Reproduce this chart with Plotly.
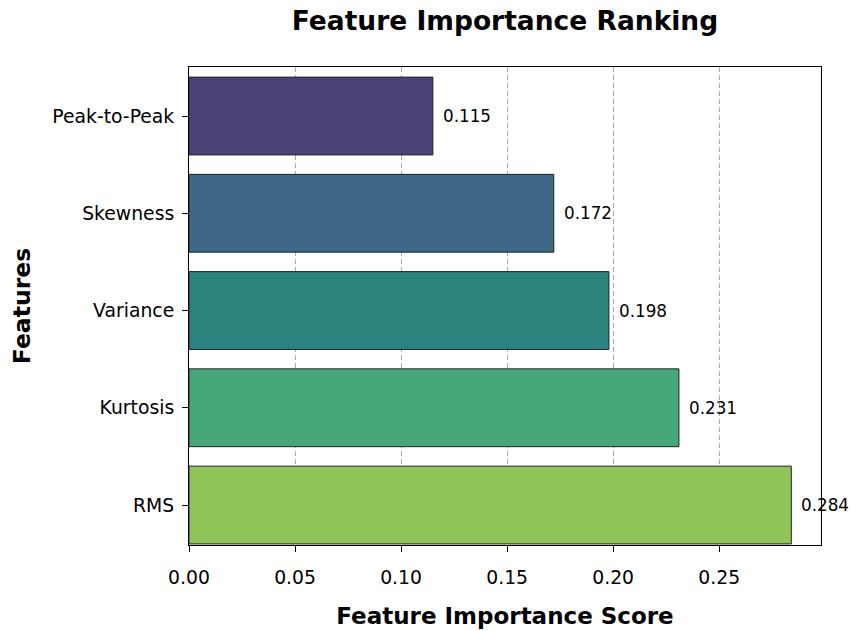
import plotly.graph_objects as go

features = ["RMS", "Kurtosis", "Variance", "Skewness", "Peak-to-Peak"]
scores = [0.284, 0.231, 0.198, 0.172, 0.115]
colors = ["#8fc558", "#46a878", "#2c837d", "#3f6887", "#4a4277"]
x_ticks = [0.0, 0.05, 0.10, 0.15, 0.20, 0.25]
x_tick_labels = ["0.00", "0.05", "0.10", "0.15", "0.20", "0.25"]

FONT = "DejaVu Sans"

fig = go.Figure()
fig.add_trace(go.Bar(
    x=scores, y=features, orientation="h", width=0.8,
    marker=dict(color=colors, line=dict(color="#222222", width=1)),
    hoverinfo="skip",
))

for f, s in zip(features, scores):
    fig.add_annotation(x=s, y=f, text=f"{s:.3f}", showarrow=False,
                       xanchor="left", yanchor="middle", xshift=8,
                       font=dict(family=FONT, size=16.8, color="black"))

fig.update_layout(
    width=851, height=631,
    margin=dict(l=189, r=30, t=67, b=86),
    plot_bgcolor="white", paper_bgcolor="white",
    showlegend=False,
    title=dict(text="<b>Feature Importance Ranking</b>", x=0.5, xref="paper", xanchor="center",
               y=1 - 21 / 631, yanchor="middle", font=dict(family=FONT, size=26.5, color="black")),
    font=dict(family=FONT, size=18.8, color="black"),
)

fig.update_xaxes(
    range=[0, 0.298], tickvals=x_ticks, ticktext=x_tick_labels,
    showgrid=True, gridcolor="#a8a8a8", griddash="5px,3px", gridwidth=1,
    showline=True, linecolor="black", linewidth=1, mirror=True,
    ticks="outside", ticklen=6, tickcolor="black", ticklabelstandoff=9,
    zeroline=False, layer="above traces", automargin=False,
    title=dict(text="<b>Feature Importance Score</b>", font=dict(family=FONT, size=23), standoff=21),
    tickfont=dict(family=FONT, size=18.8),
)
fig.update_yaxes(
    categoryorder="array", categoryarray=features,
    range=[-0.411, 4.504], automargin=False,
    showgrid=False, showline=True, linecolor="black", linewidth=1, mirror=True,
    ticks="outside", ticklen=6, tickcolor="black", ticklabelstandoff=4, zeroline=False,
    title=dict(text="<b>Features</b>", font=dict(family=FONT, size=23.5), standoff=15),
    tickfont=dict(family=FONT, size=18.8),
)

fig.write_html("out.html", config={"displayModeBar": False},
               post_script="document.body.style.margin='0';")
